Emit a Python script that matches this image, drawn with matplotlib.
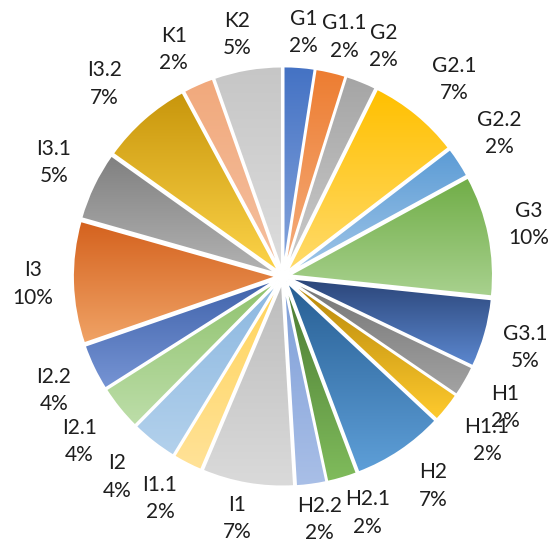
import numpy as np
import matplotlib
matplotlib.use("Agg")
import matplotlib.pyplot as plt
from matplotlib.colors import to_rgb

# Дані діаграми (частки у відсотках, зчитані з кутів секторів)
labels = ["G1", "G1.1", "G2", "G2.1", "G2.2", "G3", "G3.1", "H1", "H1.1", "H2", "H2.1",
          "H2.2", "I1", "I1.1", "I2", "I2.1", "I2.2", "I3", "I3.1", "I3.2", "K1", "K2"]
values = [2.45, 2.4, 2.45, 7.3, 2.45, 9.6, 5.45, 2.45, 2.4, 7.3, 2.4,
          2.4, 7.3, 2.35, 3.7, 3.6, 3.7, 9.7, 5.45, 7.3, 2.45, 5.4]

# Кольори градієнта: верх (темніший) -> низ (світліший)
top_colors = ["#4472C4", "#ED7D31", "#A5A5A5", "#FFC000", "#5B9BD5", "#70AD47",
              "#2A4477", "#747474", "#B5850A", "#275E93", "#4A7931", "#7E9ED8",
              "#BDBDBD", "#FFD45A", "#8BB7E0", "#8EC16C", "#3F62AA", "#D4611D",
              "#808080", "#C8960C", "#F1A97C", "#C6C6C6"]
bottom_colors = ["#86A5DC", "#F5AE7E", "#CBCBCB", "#FFDB6C", "#A0C6E8", "#A8D18E",
                 "#5C88D0", "#A3A3A3", "#FFCB2E", "#5E9FD8", "#80BC5C", "#A9BFE7",
                 "#DADADA", "#FFE298", "#B3D1EC", "#BDDEA9", "#7694D4", "#F0A366",
                 "#B3B3B3", "#FDD449", "#F5C0A0", "#DDDDDD"]

W, H = 552, 544
cx_px, cy_px = 283, 276.5   # центр круга в пікселях (від верхнього лівого кута)
scale = 204.0               # пікселів на одиницю радіуса
explode_val = 0.03

fig = plt.figure(figsize=(W / 100, H / 100), dpi=100)
ax = fig.add_axes([0, 0, 1, 1])

wedges, _ = ax.pie(values, startangle=90, counterclock=False, radius=1.0,
                   explode=[explode_val] * len(values),
                   wedgeprops=dict(edgecolor="white", linewidth=1.5))

ax.set_aspect("auto")
ax.axis("off")

# Градієнтна заливка кожного сектора
for w, c1, c2 in zip(wedges, top_colors, bottom_colors):
    ext = w.get_path().get_extents()
    a = np.array(to_rgb(c1))
    b = np.array(to_rgb(c2))
    t = np.linspace(0, 1, 256)[:, None, None]
    grad = a[None, None, :] * (1 - t) + b[None, None, :] * t
    img = ax.imshow(grad, extent=(ext.x0, ext.x1, ext.y0, ext.y1), origin="upper",
                    aspect="auto", interpolation="bilinear", zorder=0.5)
    img.set_clip_path(w)
    w.set_facecolor("none")
    w.set_zorder(1)

ax.set_xlim(-cx_px / scale, (W - cx_px) / scale)
ax.set_ylim(-(H - cy_px) / scale, cy_px / scale)

# Підписи даних за межами круга (як "біля зовнішнього краю" в Excel)
total = sum(values)
base_r = 210 / scale
off_x = 40 / scale
off_y = 35 / scale
texts, dirs = [], []
for w, lab, v in zip(wedges, labels, values):
    mid = np.deg2rad((w.theta1 + w.theta2) / 2)
    ux, uy = np.cos(mid), np.sin(mid)
    x = base_r * ux + off_x * np.clip(1.5 * ux, -1, 1)
    y = base_r * uy + off_y * np.clip(1.5 * uy, -1, 1)
    t = ax.text(x, y, f"{lab}\n{round(v / total * 100)}%", ha="center", va="center",
                fontsize=15, family=["Lato", "DejaVu Sans"], color="#1e1e1e",
                linespacing=1.45, zorder=3)
    texts.append(t)
    dirs.append((ux, uy))

# Розсуваємо сусідні підписи вгорі/внизу, якщо вони налазять один на одного
fig.canvas.draw()
rend = fig.canvas.get_renderer()
for i in range(1, len(texts)):
    (ux1, uy1), (ux2, uy2) = dirs[i - 1], dirs[i]
    if abs(uy1) < 0.9 or abs(uy2) < 0.9:
        continue
    b1 = texts[i - 1].get_window_extent(rend)
    b2 = texts[i].get_window_extent(rend)
    ov = min(b1.x1, b2.x1) - max(b1.x0, b2.x0)
    if ov > 0 and b1.y0 < b2.y1 and b2.y0 < b1.y1:
        # зсуваємо той підпис, що далі від вертикалі
        k, ux = (i - 1, ux1) if abs(uy1) < abs(uy2) else (i, ux2)
        x, y = texts[k].get_position()
        texts[k].set_position((x + np.sign(ux) * (ov + 3) / scale, y))

fig.savefig("out.png", dpi=100, facecolor="white")
